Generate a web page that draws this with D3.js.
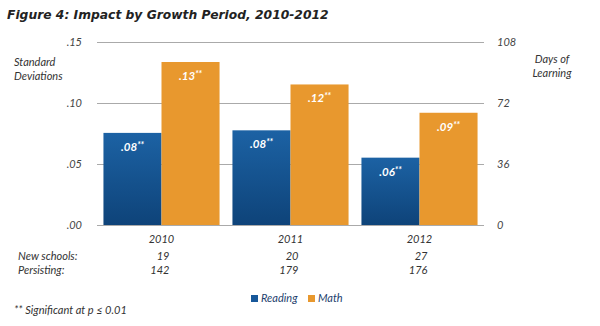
<!DOCTYPE html>
<html>
<head>
<meta charset="utf-8">
<script src="https://cdn.jsdelivr.net/npm/d3@7"></script>
<style>
  body { margin: 0; background: #fff; }
  svg text { font-family: Lato, "Open Sans", sans-serif; font-style: italic; fill: #333; }
</style>
</head>
<body>
<svg id="chart" width="600" height="326"></svg>
<script>
// growth period impact, in standard deviations
var years = ["2010", "2011", "2012"]
var subjects = ["Reading", "Math"]
var reading = [0.0755, 0.0776, 0.0552]
var math = [0.1336, 0.1152, 0.0920]
var newSchools = [19, 20, 27]
var persisting = [142, 179, 176]
var sdTicks = [0, 0.05, 0.10, 0.15]
var dayTicks = [0, 36, 72, 108]

var svg = d3.select("#chart")

var plotLeft = 97, plotRight = 484, plotTop = 42, plotBottom = 225

var x = d3.scaleBand().domain(years).range([plotLeft, plotRight]).paddingInner(0.1).paddingOuter(0.05)
var xs = d3.scaleBand().domain(subjects).range([0, x.bandwidth()])
var y = d3.scaleLinear().domain([0, 0.15]).range([plotBottom, plotTop])
var yDays = d3.scaleLinear().domain([0, 108]).range([plotBottom, plotTop])

var colors = { Reading: "url(#readGrad)", Math: "#e8982e" }

var defs = svg.append("defs")
var grad = defs.append("linearGradient").attr("id", "readGrad")
    .attr("x1", 0).attr("y1", 0).attr("x2", 0).attr("y2", 1)
grad.append("stop").attr("offset", "0%").attr("stop-color", "#1c62a4")
grad.append("stop").attr("offset", "100%").attr("stop-color", "#0e4379")

// title
svg.append("text")
    .attr("x", 7).attr("y", 19)
    .style("font-family", "'DejaVu Sans', Verdana, sans-serif")
    .style("font-weight", "bold")
    .style("font-size", "12.3px")
    .style("fill", "#222")
    .text("Figure 4: Impact by Growth Period, 2010-2012")

// gridlines
svg.append("g").selectAll("line")
    .data(sdTicks)
    .join("line")
    .attr("x1", plotLeft).attr("x2", plotRight)
    .attr("y1", d => Math.round(y(d)) + 0.5).attr("y2", d => Math.round(y(d)) + 0.5)
    .attr("stroke", "#aaa").attr("stroke-width", 1)

// left axis
var leftAxis = svg.append("g")
    .attr("transform", "translate(" + (plotLeft - 12) + ",0)")
    .call(d3.axisLeft(y).tickValues(sdTicks).tickSize(0).tickFormat(d => d3.format(".2f")(d).replace(/^0/, "")))
leftAxis.select(".domain").remove()
leftAxis.selectAll("text").style("font-size", "11px").style("fill", "#444")
    .style("font-family", "Lato, sans-serif").attr("dy", "0.35em")

// right axis
var rightAxis = svg.append("g")
    .attr("transform", "translate(" + (plotRight + 10) + ",0)")
    .call(d3.axisRight(yDays).tickValues(dayTicks).tickSize(0))
rightAxis.select(".domain").remove()
rightAxis.selectAll("text").style("font-size", "11px").style("fill", "#444")
    .style("font-family", "Lato, sans-serif").attr("dy", "0.35em")

svg.append("text").attr("x", 14).attr("y", 66).style("font-size", "11px").text("Standard")
svg.append("text").attr("x", 14).attr("y", 80).style("font-size", "11px").text("Deviations")
svg.append("text").attr("x", 552).attr("y", 63).attr("text-anchor", "middle").style("font-size", "11px").text("Days of")
svg.append("text").attr("x", 552).attr("y", 77).attr("text-anchor", "middle").style("font-size", "11px").text("Learning")

// bars
var rows = years.map(function(yr, i) {
    return [
        { year: yr, subject: "Reading", value: reading[i] },
        { year: yr, subject: "Math", value: math[i] }
    ]
})
var bars = svg.append("g").selectAll("g")
    .data(rows)
    .join("g")
    .attr("transform", d => "translate(" + x(d[0].year) + ",0)")

bars.selectAll("rect")
    .data(d => d)
    .join("rect")
    .attr("x", d => xs(d.subject))
    .attr("width", xs.bandwidth())
    .attr("y", d => y(d.value))
    .attr("height", d => y(0) - y(d.value))
    .attr("fill", d => colors[d.subject])

var labels = bars.selectAll("text.val")
    .data(d => d)
    .join("text")
    .attr("class", "val")
    .attr("x", d => xs(d.subject) + xs.bandwidth() / 2)
    .attr("y", d => y(d.value) + 18)
    .attr("text-anchor", "middle")
    .style("font-size", "11.5px")
    .style("font-weight", "bold")
    .style("fill", "#fff")
labels.append("tspan").text(d => d3.format(".2f")(Math.round(d.value * 100) / 100).replace(/^0/, ""))
labels.append("tspan").attr("dy", -3).style("font-size", "8.5px").style("fill", "#fff").text("**")

// category labels and counts table
var xAxis = svg.append("g")
    .attr("transform", "translate(0," + (plotBottom + 2) + ")")
    .call(d3.axisBottom(x).tickSize(0).tickPadding(8))
xAxis.select(".domain").remove()
xAxis.selectAll("text").style("font-size", "11px").style("fill", "#333").style("font-family", "Lato, sans-serif")

svg.append("text").attr("x", 18).attr("y", 260).style("font-size", "11px").text("New schools:")
svg.append("text").attr("x", 18).attr("y", 274).style("font-size", "11px").text("Persisting:")

svg.append("g").selectAll("text")
    .data(newSchools)
    .join("text")
    .attr("x", (d, i) => x(years[i]) + x.bandwidth() / 2 + 8)
    .attr("y", 260)
    .attr("text-anchor", "end")
    .style("font-size", "11px")
    .text(d => d)

svg.append("g").selectAll("text")
    .data(persisting)
    .join("text")
    .attr("x", (d, i) => x(years[i]) + x.bandwidth() / 2 + 8)
    .attr("y", 274)
    .attr("text-anchor", "end")
    .style("font-size", "11px")
    .text(d => d)

// legend
var legend = svg.append("g").selectAll("g")
    .data(subjects)
    .join("g")
    .attr("transform", (d, i) => "translate(" + (251 + i * 57) + ",296)")
legend.append("rect").attr("width", 7).attr("height", 7).attr("y", -1)
    .attr("fill", d => d == "Reading" ? "#17589a" : "#e8982e")
legend.append("text").attr("x", 10).attr("y", 6).style("font-size", "11px").style("fill", "#1d3f6e").text(d => d)

// footnote
svg.append("text").attr("x", 14).attr("y", 314).style("font-size", "11px").text("** Significant at p \u2264 0.01")
</script>
</body>
</html>
